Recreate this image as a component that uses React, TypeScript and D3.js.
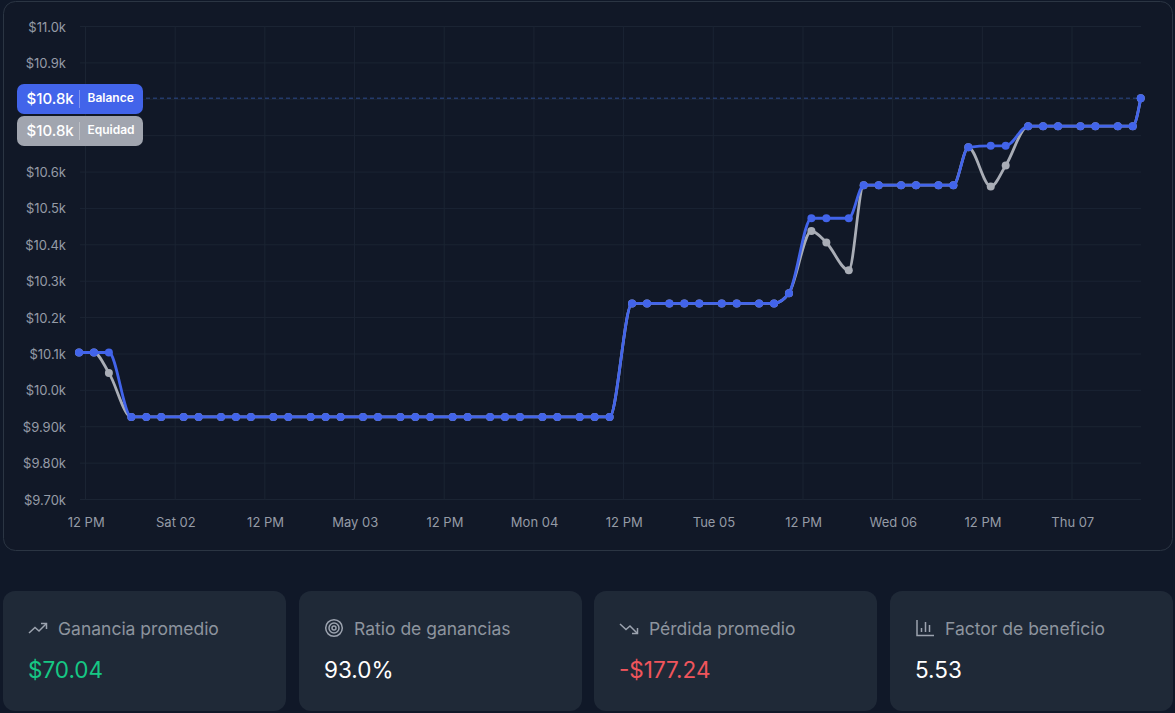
import * as d3 from 'd3';
import React from 'react';

// hours after 12 PM on Fri May 01
const hours = [
  -0.87, 1.13, 3.13, 6.13, 8.13, 10.13, 13.13, 15.13, 18.13, 20.13, 22.13, 25.13, 27.13, 30.13, 32.13, 34.13,
  37.13, 39.13, 42.13, 44.13, 46.13, 49.13, 51.13, 54.13, 56.13, 58.13, 61.13, 63.13, 66.13, 68.13, 70.13,
  73.13, 75.13, 78.13, 80.13, 82.13, 85.13, 87.13, 90.13, 92.13, 94.13, 97.13, 99.13, 102.13, 104.13, 106.13,
  109.13, 111.13, 114.13, 116.13, 118.13, 121.13, 123.13, 126.13, 128.13, 130.13, 133.13, 135.13, 138.13,
  140.13, 141.2,
];
const balance = [
  10104, 10104, 10104, 9927, 9927, 9927, 9927, 9927, 9927, 9927, 9927, 9927, 9927, 9927, 9927, 9927,
  9927, 9927, 9927, 9927, 9927, 9927, 9927, 9927, 9927, 9927, 9927, 9927, 9927, 9927, 9927,
  10239, 10239, 10239, 10239, 10239, 10239, 10239, 10239, 10239, 10267, 10473, 10473, 10473, 10564, 10564,
  10564, 10564, 10564, 10564, 10668, 10672, 10672, 10726, 10726, 10726, 10726, 10726, 10726,
  10726, 10803,
];
const equity = [
  10104, 10104, 10048, 9927, 9927, 9927, 9927, 9927, 9927, 9927, 9927, 9927, 9927, 9927, 9927, 9927,
  9927, 9927, 9927, 9927, 9927, 9927, 9927, 9927, 9927, 9927, 9927, 9927, 9927, 9927, 9927,
  10239, 10239, 10239, 10239, 10239, 10239, 10239, 10239, 10239, 10267, 10438, 10406, 10330, 10564, 10564,
  10564, 10564, 10564, 10564, 10668, 10560, 10618, 10726, 10726, 10726, 10726, 10726, 10726,
  10726, 10803,
];
const yTicks = [11000, 10900, 10800, 10700, 10600, 10500, 10400, 10300, 10200, 10100, 10000, 9900, 9800, 9700];
// these two labels sit behind the badges in the reference
const hiddenYLabels = [10800, 10700];
const xTickHours = [0, 12, 24, 36, 48, 60, 72, 84, 96, 108, 120, 132];
const xTickLabels = ['12 PM', 'Sat 02', '12 PM', 'May 03', '12 PM', 'Mon 04', '12 PM', 'Tue 05', '12 PM', 'Wed 06', '12 PM', 'Thu 07'];
const statLabels = ['Ganancia promedio', 'Ratio de ganancias', 'Pérdida promedio', 'Factor de beneficio'];
const statValues = ['$70.04', '93.0%', '-$177.24', '5.53'];
const statColors = ['#16c784', '#ffffff', '#f0555c', '#ffffff'];

const BLUE = '#4264ea';
const GREY = '#a9adb6';
const font = 'Inter, sans-serif';

const x = d3.scaleLinear().domain([0, 132]).range([85.5, 1072]);
const y = d3.scaleLinear().domain([9700, 11000]).range([499.5, 26.5]);

const formatK = (v: number) => `$${(v / 1000).toFixed(v < 10000 ? 2 : 1)}k`;

function Series({ values, color }: { values: number[]; color: string }) {
  const line = d3
    .line<number>()
    .x((_, i) => x(hours[i]))
    .y((d) => y(d))
    .curve(d3.curveMonotoneX);
  return (
    <g>
      <path d={line(values) ?? ''} fill="none" stroke={color} strokeWidth={2.8} />
      {values.map((v, i) => (
        <circle key={i} cx={x(hours[i])} cy={y(v)} r={4} fill={color} />
      ))}
    </g>
  );
}

function Badge({ top, color, name }: { top: number; color: string; name: string }) {
  return (
    <g>
      <rect x={17} y={top} width={126} height={30} rx={7} fill={color} />
      <line x1={79.5} x2={79.5} y1={top + 6} y2={top + 24} stroke="#ffffff" strokeOpacity={0.3} />
      <text x={26.5} y={top + 20} fontSize={15} fontWeight={500} fill="#fff">
        {formatK(balance[balance.length - 1] - 3)}
      </text>
      <text x={87.5} y={top + 18} fontSize={12} fontWeight={600} fill="#fff">
        {name}
      </text>
    </g>
  );
}

function StatIcon({ index, left }: { index: number; left: number }) {
  const common = { fill: 'none', stroke: '#9ca3af', strokeWidth: 1.5 };
  if (index === 0)
    return (
      <g transform={`translate(${left},619)`} {...common}>
        <path d="M1 14 L7 8.5 L11 12 L18 5" />
        <path d="M13 4.5 H18.5 V10" />
      </g>
    );
  if (index === 1)
    return (
      <g transform={`translate(${left + 10},628)`} {...common}>
        <circle r={8.3} />
        <circle r={5} />
        <circle r={2} />
      </g>
    );
  if (index === 2)
    return (
      <g transform={`translate(${left},619)`} {...common}>
        <path d="M1 5 L7 10.5 L11 7 L18 14" />
        <path d="M13 14.5 H18.5 V9" />
      </g>
    );
  return (
    <g transform={`translate(${left + 1},619)`} {...common}>
      <path d="M1 1 V16.5 H18" />
      <path d="M5.5 13 V9 M9.5 13 V3 M13.5 13 V6" />
    </g>
  );
}

const cardLefts = [3, 299, 594, 890];

export default function App() {
  const last = hours.length - 1;
  return (
    <svg
      width={1175}
      height={713}
      style={{ position: 'absolute', left: 0, top: 0, display: 'block' }}
      fontFamily={font}
    >
      <rect width={1175} height={713} fill="#101828" />
      <rect x={3.5} y={1.5} width={1169} height={549} rx={12} fill="#111827" stroke="#2b3543" />

      {yTicks.map((t) => (
        <g key={t}>
          <line x1={80} x2={1141} y1={y(t)} y2={y(t)} stroke="#1b2433" />
          {!hiddenYLabels.includes(t) && (
            <text x={66} y={y(t) + 5} textAnchor="end" fontSize={13} fill="#959ba6">
              {formatK(t)}
            </text>
          )}
        </g>
      ))}
      {xTickHours.map((h, i) => (
        <g key={h}>
          <line x1={x(h)} x2={x(h)} y1={26.5} y2={499.5} stroke="#1b2433" />
          <text x={x(h) + 0.7} y={527} textAnchor="middle" fontSize={13} fill="#959ba6">
            {xTickLabels[i]}
          </text>
        </g>
      ))}

      <line
        x1={146}
        x2={x(hours[last])}
        y1={y(balance[last])}
        y2={y(balance[last])}
        stroke="#2d4a8c"
        strokeDasharray="4 3"
      />

      <Series values={equity} color={GREY} />
      <Series values={balance} color={BLUE} />

      <Badge top={84} color={BLUE} name="Balance" />
      <Badge top={116} color="#a1a5af" name="Equidad" />

      {statLabels.map((label, i) => (
        <g key={label}>
          <rect x={cardLefts[i]} y={591} width={283} height={120} rx={12} fill="#1f2937" />
          <StatIcon index={i} left={cardLefts[i] + 25} />
          <text x={cardLefts[i] + 55} y={634.5} fontSize={17.5} fill="#8d949e">
            {label}
          </text>
          <text x={cardLefts[i] + 25} y={677.5} fontSize={22.5} fill={statColors[i]}>
            {statValues[i]}
          </text>
        </g>
      ))}
    </svg>
  );
}
